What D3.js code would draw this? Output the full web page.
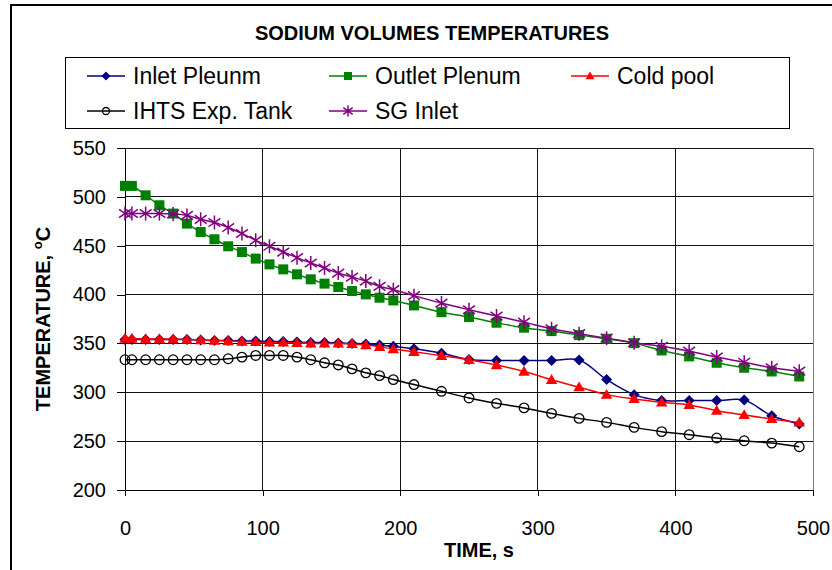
<!DOCTYPE html>
<html><head><meta charset="UTF-8">
<script src="https://d3js.org/d3.v7.min.js"></script>
<style>
body{margin:0;background:#fff;overflow:hidden}
svg{display:block;font-family:"Liberation Sans",Arial,sans-serif}
</style></head><body><div id="chart"></div>
<script>
const timeS = [0, 5, 15, 25, 35, 45, 55, 65, 75, 85, 95, 105, 115, 125, 135, 145, 155, 165, 175, 185, 195,
  210, 230, 250, 270, 290, 310, 330, 350, 370, 390, 410, 430, 450, 470, 490];

const inletPlenum = [354, 354, 354, 354, 354, 354, 353.5, 353, 353, 352.5, 352.5, 352, 352, 351.5, 351, 351, 350.5, 350, 349.5, 348.5, 347,
  344.6, 340, 333.5, 332.5, 332.5, 332.5, 333, 313, 297.6, 291.5, 291.5, 291.5, 292, 276, 267.5];
const outletPlenum = [511.2, 511.2, 501.6, 491.4, 482.9, 472.6, 464, 456.6, 449.4, 443.5, 436.8, 430.9, 425.8, 420.7, 415.6, 411.2, 407.7, 403.6, 400.2, 396.8, 394,
  388.9, 382, 377, 371.2, 366.1, 362.6, 358.5, 354.8, 350.3, 342.8, 336.7, 330.2, 325.1, 321.3, 316.2];
const coldPool = [355, 355, 354.5, 354.5, 354.5, 354, 353.5, 353, 352.5, 352, 351.5, 351, 351, 350.5, 350, 350, 350, 349.5, 348.3, 346.6, 344.3,
  341.5, 337.4, 333.3, 327.9, 321.3, 312.8, 305.2, 297.6, 293.2, 289.8, 287.1, 281.2, 276.8, 272.7, 269.2];
const ihtsTank = [333.3, 333.3, 333.3, 333.3, 333.3, 333.3, 333.3, 333.3, 334.3, 336, 337.7, 337.7, 337.7, 336, 333.3, 330.2, 328, 324, 319.9, 317.1, 313,
  307.9, 301, 294.2, 288.7, 284, 278.4, 273.3, 269.2, 264.1, 259.7, 256.6, 253.2, 250.4, 248, 244.3];
const sgInlet = [483, 483, 483, 483, 482.5, 481, 477, 473.7, 468.6, 462.5, 455.5, 449.4, 443.5, 437.8, 432.3, 427.2, 422, 417.9, 413.8, 408.4, 405,
  398.9, 391.3, 384.5, 378, 371.8, 365, 360, 355.4, 350.7, 347, 342.1, 336, 330.8, 325.1, 321.6];

const xTicks = [0, 100, 200, 300, 400, 500];
const yTicks = [200, 250, 300, 350, 400, 450, 500, 550];

const series = [
  { name: 'Inlet Pleunm', values: inletPlenum, color: '#000080', marker: 'diamond' },
  { name: 'Outlet Plenum', values: outletPlenum, color: '#008000', marker: 'square' },
  { name: 'Cold pool', values: coldPool, color: '#ff0000', marker: 'triangle' },
  { name: 'IHTS Exp. Tank', values: ihtsTank, color: '#000000', marker: 'circle' },
  { name: 'SG Inlet', values: sgInlet, color: '#800080', marker: 'star' }
];

const W = 832, H = 570;
const svg = d3.select('#chart').append('svg').attr('width', W).attr('height', H);

// outer chart frame (runs off the right and bottom edge)
svg.append('rect').attr('x', 11).attr('y', 5).attr('width', 840).attr('height', 600)
  .attr('fill', '#fff').attr('stroke', '#000').attr('stroke-width', 2);

const x = d3.scaleLinear().domain([0, 500]).range([125, 813]);
const y = d3.scaleLinear().domain([200, 550]).range([490, 148]);

// gridlines
svg.append('g').selectAll('line').data(yTicks).join('line')
  .attr('x1', x(0)).attr('x2', x(500)).attr('y1', d => y(d)).attr('y2', d => y(d))
  .attr('stroke', '#111').attr('stroke-width', 1).attr('shape-rendering', 'crispEdges');
svg.append('g').selectAll('line').data(xTicks.slice(1)).join('line')
  .attr('x1', d => x(d)).attr('x2', d => x(d)).attr('y1', y(200)).attr('y2', y(550))
  .attr('stroke', d => d === 500 ? '#808080' : '#111').attr('stroke-width', 1).attr('shape-rendering', 'crispEdges');

const yAxis = svg.append('g').attr('transform', `translate(${x(0)},0)`)
  .call(d3.axisLeft(y).tickValues(yTicks).tickSize(8).tickPadding(11));
const xAxis = svg.append('g').attr('transform', `translate(0,${y(200)})`)
  .call(d3.axisBottom(x).tickValues(xTicks).tickSize(6).tickPadding(25));
[yAxis, xAxis].forEach(a => {
  a.select('.domain').attr('stroke', '#000').attr('shape-rendering', 'crispEdges');
  a.selectAll('.tick line').attr('stroke', '#000').attr('shape-rendering', 'crispEdges');
  a.selectAll('.tick text').attr('font-size', 20).attr('fill', '#000')
    .attr('font-family', '"Liberation Sans",Arial,sans-serif');
});

const markerPath = (type, s) => {
  if (type === 'diamond') return `M0,${-s}L${s},0L0,${s}L${-s},0Z`;
  if (type === 'square') return `M${-s},${-s}H${s}V${s}H${-s}Z`;
  if (type === 'triangle') return `M0,${-s * 1.1}L${s * 1.1},${s * 0.8}L${-s * 1.1},${s * 0.8}Z`;
  if (type === 'star') {
    const u = s * 0.85, v = s * 0.6;
    return `M0,${-s}V${s}M${-u},${-v}L${u},${v}M${-u},${v}L${u},${-v}`;
  }
  return null;
};

const drawMarker = (g, type, color, s) => {
  if (type === 'circle') {
    g.append('circle').attr('r', s).attr('fill', 'none').attr('stroke', color).attr('stroke-width', 1.3);
  } else if (type === 'star') {
    g.append('path').attr('d', markerPath(type, s)).attr('fill', 'none').attr('stroke', color).attr('stroke-width', 1.5);
  } else {
    g.append('path').attr('d', markerPath(type, s)).attr('fill', color);
  }
};

const line = d3.line().x((d, i) => x(timeS[i])).y(d => y(d)).curve(d3.curveCatmullRom.alpha(0.5));
const sizes = { diamond: 5.5, square: 5, triangle: 5.2, circle: 4.8, star: 7 };

for (const s of series) {
  const g = svg.append('g');
  g.append('path').datum(s.values).attr('d', line)
    .attr('fill', 'none').attr('stroke', s.color).attr('stroke-width', 1.5);
  g.selectAll('g').data(s.values).join('g')
    .attr('transform', (d, i) => `translate(${x(timeS[i])},${y(d)})`)
    .each(function () { drawMarker(d3.select(this), s.marker, s.color, sizes[s.marker]); });
}

// title
svg.append('text').attr('x', 432).attr('y', 40).attr('text-anchor', 'middle')
  .attr('font-size', 20).attr('font-weight', 'bold').text('SODIUM VOLUMES TEMPERATURES');

// legend
svg.append('rect').attr('x', 65.5).attr('y', 57.5).attr('width', 724).attr('height', 71)
  .attr('fill', '#fff').attr('stroke', '#000').attr('stroke-width', 1);
const legendPos = [[87, 76], [329, 76], [571, 76], [87, 111], [329, 111]];
const legendSizes = { diamond: 4.5, square: 4, triangle: 4, circle: 3.5, star: 5.5 };
series.forEach((s, i) => {
  const [lx, ly] = legendPos[i];
  const g = svg.append('g').attr('transform', `translate(${lx},${ly})`);
  g.append('line').attr('x1', 0).attr('x2', 38).attr('stroke', s.color).attr('stroke-width', 1.5);
  drawMarker(g.append('g').attr('transform', 'translate(19,0)'), s.marker, s.color, legendSizes[s.marker]);
  g.append('text').attr('x', 46).attr('y', 8).attr('font-size', 23).text(s.name);
});

// axis titles
svg.append('text').attr('x', 479).attr('y', 557).attr('text-anchor', 'middle')
  .attr('font-size', 20).attr('font-weight', 'bold').text('TIME, s');
const yt = svg.append('text').attr('transform', 'translate(50,319) rotate(-90)')
  .attr('text-anchor', 'middle').attr('font-size', 20).attr('font-weight', 'bold');
yt.append('tspan').text('TEMPERATURE, ');
yt.append('tspan').attr('dy', -8).attr('font-size', 13).text('o');
yt.append('tspan').attr('dy', 8).text('C');
</script></body></html>
